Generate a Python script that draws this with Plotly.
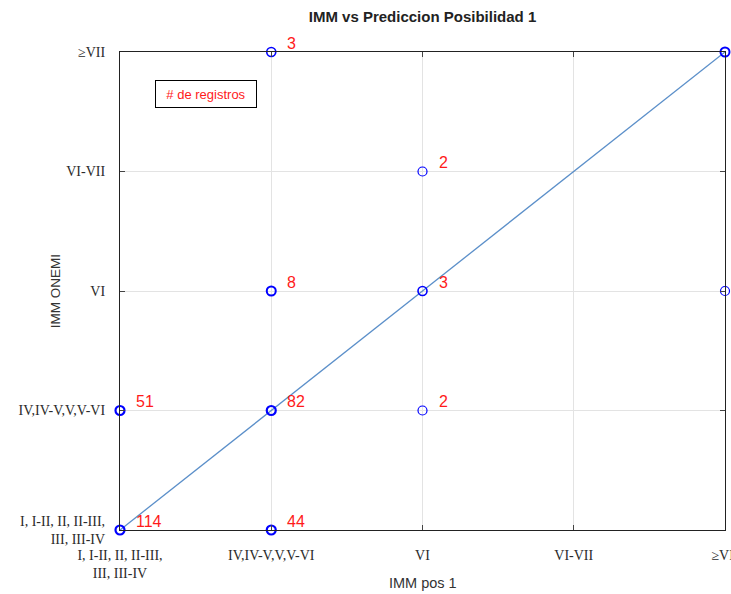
import plotly.graph_objects as go

categories = ["I, I-II, II, II-III,<br>III, III-IV", "IV,IV-V,V,V-VI", "VI", "VI-VII", "≥VII"]
cat_pos = [1, 2, 3, 4, 5]

pt_x = [1, 1, 2, 2, 2, 2, 3, 3, 3, 5, 5]
pt_y = [1, 2, 1, 2, 3, 5, 2, 3, 4, 3, 5]
pt_count = ["114", "51", "44", "82", "8", "3", "2", "3", "2", "", ""]
pt_width = [2.2, 2.2, 2.2, 2.2, 2.0, 1.6, 1.2, 1.6, 1.2, 1.2, 2.0]

diag_x = [1, 5]
diag_y = [1, 5]

fig = go.Figure()
fig.add_trace(go.Scatter(x=diag_x, y=diag_y, mode="lines",
                         line=dict(color="#5b8fc9", width=1.3),
                         showlegend=False, hoverinfo="skip", cliponaxis=False))
fig.add_trace(go.Scatter(x=pt_x, y=pt_y, mode="markers",
                         marker=dict(symbol="circle-open", size=9, color="#0000ff",
                                     line=dict(color="#0000ff", width=pt_width)),
                         showlegend=False, cliponaxis=False))

for x, y, t in zip(pt_x, pt_y, pt_count):
    if t:
        fig.add_annotation(x=x, y=y, text=t, showarrow=False, xanchor="left",
                           yanchor="middle", xshift=14, yshift=9,
                           font=dict(family="Arial, Liberation Sans", size=16, color="#ff1a1a"))

fig.add_annotation(xref="paper", yref="paper", x=0.058, y=0.941, text="# de registros",
                   showarrow=False, xanchor="left", yanchor="top", width=90, height=16,
                   font=dict(family="Arial, Liberation Sans", size=13, color="#ff1a1a"),
                   bordercolor="black", borderwidth=1, borderpad=5, bgcolor="white")

# axis titles as annotations for exact placement
fig.add_annotation(xref="paper", yref="paper", x=0.5, y=-0.111, text="IMM pos 1",
                   showarrow=False, xanchor="center", yanchor="middle",
                   font=dict(family="Arial, Liberation Sans", size=14.5, color="#333"))
fig.add_annotation(xref="paper", yref="paper", x=-0.107, y=0.5, text="IMM ONEMI",
                   showarrow=False, xanchor="center", yanchor="middle", textangle=-90,
                   font=dict(family="Arial, Liberation Sans", size=13.5, color="#333"))

axis_common = dict(tickvals=cat_pos, ticktext=categories, range=[1, 5],
                   showgrid=True, gridcolor="#e3e3e3", gridwidth=1,
                   showline=True, linecolor="#222", linewidth=1.2, mirror="ticks",
                   ticks="inside", ticklen=5, tickcolor="#444",
                   tickfont=dict(family="Liberation Serif, Times New Roman, serif", size=14, color="#2a2a2a"),
                   zeroline=False, fixedrange=True, automargin=False,
                   ticklabeloverflow="allow")

fig.update_layout(
    width=731, height=594,
    margin=dict(l=120, r=6, t=52, b=64),
    paper_bgcolor="white", plot_bgcolor="white",
    title=dict(text="<b>IMM vs Prediccion Posibilidad 1</b>", x=0.578, xanchor="center",
               y=0.971, yanchor="middle",
               font=dict(family="Arial, Liberation Sans", size=15, color="#222")),
    xaxis=dict(**axis_common, ticklabelstandoff=12),
    yaxis=dict(**axis_common, ticklabelstandoff=11),
)

fig.write_html("out.html", config={"displayModeBar": False},
               post_script="document.body.style.margin='0';document.body.style.overflow='hidden';")
